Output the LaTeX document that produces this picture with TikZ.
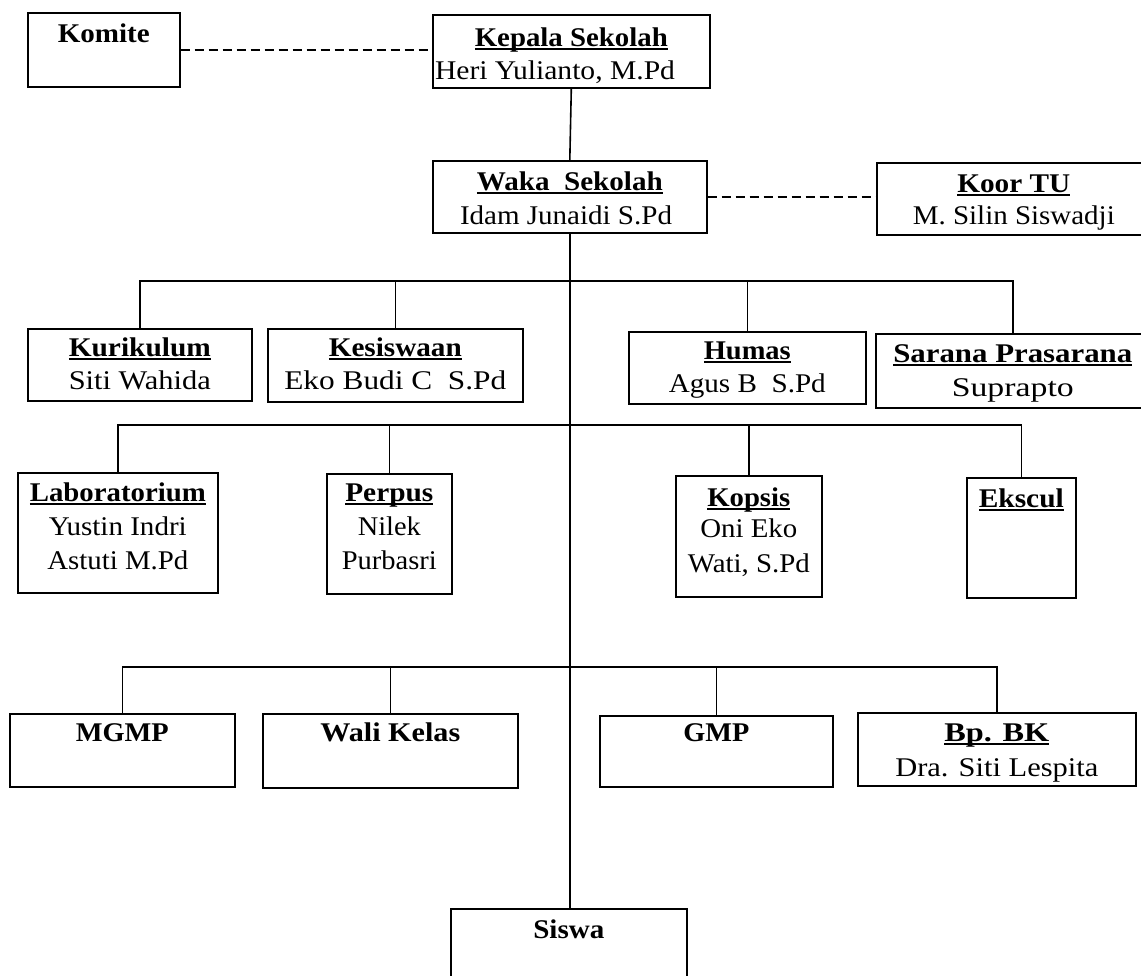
\documentclass[tikz,border=0pt]{standalone}
\usepackage{fontspec}
\usepackage{graphicx}
\setmainfont{Liberation Serif}
\newcommand\ulin[1]{\sbox0{#1}\rlap{\rule[-3.5pt]{\wd0}{1.8pt}}\usebox0}
\newcommand\sw[2]{\resizebox{#1pt}{\height}{#2}}
\tikzset{
  box/.style={draw, line width=1.6pt, inner sep=0pt, anchor=north west},
  tx/.style={inner sep=0pt, anchor=base, font=\fontsize{27}{32}\selectfont},
  tb/.style={inner sep=0pt, anchor=base, font=\fontsize{27}{32}\selectfont\bfseries},
  con/.style={line width=1.6pt},
  dcon/.style={line width=1.6pt, dash pattern=on 9pt off 5pt},
}
\begin{document}
\begin{tikzpicture}[x=1pt,y=-1pt]
\useasboundingbox[fill=white] (0,0) rectangle (1141,975);
% boxes
\node[box, minimum width=152pt, minimum height=74pt] (kom) at (27,12) {};
\node[box, minimum width=277pt, minimum height=73pt] (kep) at (432,14) {};
\node[box, minimum width=274pt, minimum height=72pt] (waka) at (432,160) {};
\node[box, minimum width=274pt, minimum height=72pt] (koor) at (876,162) {};
\node[box, minimum width=224pt, minimum height=72pt] (kur) at (27,328) {};
\node[box, minimum width=255pt, minimum height=73pt] (kes) at (267,328) {};
\node[box, minimum width=237pt, minimum height=72pt] (hum) at (628,331) {};
\node[box, minimum width=274pt, minimum height=74pt] (sar) at (875,333) {};
\node[box, minimum width=200pt, minimum height=120pt] (lab) at (17,472) {};
\node[box, minimum width=125pt, minimum height=120pt] (perp) at (326,473) {};
\node[box, minimum width=146pt, minimum height=121pt] (kop) at (675,475) {};
\node[box, minimum width=109pt, minimum height=120pt] (eks) at (966,477) {};
\node[box, minimum width=225pt, minimum height=73pt] (mgmp) at (9,713) {};
\node[box, minimum width=255pt, minimum height=74pt] (wali) at (262,713) {};
\node[box, minimum width=233pt, minimum height=71pt] (gmp) at (599,715) {};
\node[box, minimum width=278pt, minimum height=73pt] (bk) at (857,712) {};
\node[box, minimum width=236pt, minimum height=90pt] (sis) at (450,908) {};
% texts
\node[tb] (t1) at (kom.center |- 0,42.5) {\sw{92}{Komite}};
\node[tb] (t2) at (kep.center |- 0,46.5) {\sw{193}{\ulin{Kepala Sekolah}}};
\node[tx] (t3) at (555,79.5) {\sw{240}{Heri Yulianto, M.Pd}};
\node[tb] (t4) at (waka.center |- 0,190.5) {\sw{186}{\ulin{Waka~ Sekolah}}};
\node[tx] (t5) at (566,224.5) {\sw{212}{Idam Junaidi S.Pd}};
\node[tb] (t6) at (koor.center |- 0,192.5) {\sw{113}{\ulin{Koor TU}}};
\node[tx] (t7) at (koor.center |- 0,224.5) {\sw{202}{M. Silin Siswadji}};
\node[tb] (t8) at (kur.center |- 0,356.5) {\sw{142}{\ulin{Kurikulum}}};
\node[tx] (t9) at (kur.center |- 0,389.5) {\sw{142}{Siti Wahida}};
\node[tb] (t10) at (kes.center |- 0,356.5) {\sw{133}{\ulin{Kesiswaan}}};
\node[tx] (t11) at (kes.center |- 0,389.5) {\sw{222}{Eko Budi C~ S.Pd}};
\node[tb] (t12) at (hum.center |- 0,359.5) {\sw{87}{\ulin{Humas}}};
\node[tx] (t13) at (hum.center |- 0,392.5) {\sw{157}{Agus B~ S.Pd}};
\node[tb] (t14) at (sar.center |- 0,362) {\sw{239}{\ulin{Sarana Prasarana}}};
\node[tx] (t15) at (sar.center |- 0,396) {\sw{122}{Suprapto}};
\node[tb] (t16) at (lab.center |- 0,501.5) {\sw{176}{\ulin{Laboratorium}}};
\node[tx] (t17) at (lab.center |- 0,535) {\sw{138}{Yustin Indri}};
\node[tx] (t18) at (lab.center |- 0,569) {\sw{141}{Astuti M.Pd}};
\node[tb] (t19) at (perp.center |- 0,501.5) {\sw{88}{\ulin{Perpus}}};
\node[tx] (t20) at (perp.center |- 0,535) {\sw{63}{Nilek}};
\node[tx] (t21) at (perp.center |- 0,569) {\sw{95}{Purbasri}};
\node[tb] (t22) at (kop.center |- 0,506.5) {\sw{83}{\ulin{Kopsis}}};
\node[tx] (t23) at (kop.center |- 0,537.5) {\sw{97}{Oni Eko}};
\node[tx] (t24) at (kop.center |- 0,572.5) {\sw{122}{Wati, S.Pd}};
\node[tb] (t25) at (eks.center |- 0,507.5) {\sw{85}{\ulin{Ekscul}}};
\node[tb] (t26) at (mgmp.center |- 0,741.5) {\sw{93}{MGMP}};
\node[tb] (t27) at (wali.center |- 0,741.5) {\sw{140}{Wali Kelas}};
\node[tb] (t28) at (gmp.center |- 0,741.5) {\sw{66}{GMP}};
\node[tb] (t29) at (bk.center |- 0,741.5) {\sw{105}{\ulin{Bp. BK}}};
\node[tx] (t30) at (bk.center |- 0,776.5) {\sw{203}{Dra. Siti Lespita}};
\node[tb] (t31) at (sis.center |- 0,938.5) {\sw{71}{Siswa}};
% bus coordinates
\coordinate (b1) at (0,281);
\coordinate (b2) at (0,425);
\coordinate (b3) at (0,667);
% dashed links
\draw[dcon] (kom.east) -- (kom.east -| kep.west);
\draw[dcon] (waka.east) -- (waka.east -| koor.west);
% main spine
\draw[con] (kep.south) -- (waka.north);
\draw[con] (waka.south) -- (waka.south |- sis.north);
% bus 1
\draw[con] (kur.north) -- (kur.north |- b1) -- (sar.north |- b1) -- (sar.north);
\draw[con] (kes.north) -- (kes.north |- b1);
\draw[con] (hum.north) -- (hum.north |- b1);
% bus 2
\draw[con] (lab.north) -- (lab.north |- b2) -- (eks.north |- b2) -- (eks.north);
\draw[con] (perp.north) -- (perp.north |- b2);
\draw[con] (kop.north) -- (kop.north |- b2);
% bus 3
\draw[con] (mgmp.north) -- (mgmp.north |- b3) -- (bk.north |- b3) -- (bk.north);
\draw[con] (wali.north) -- (wali.north |- b3);
\draw[con] (gmp.north) -- (gmp.north |- b3);
\end{tikzpicture}
\end{document}
